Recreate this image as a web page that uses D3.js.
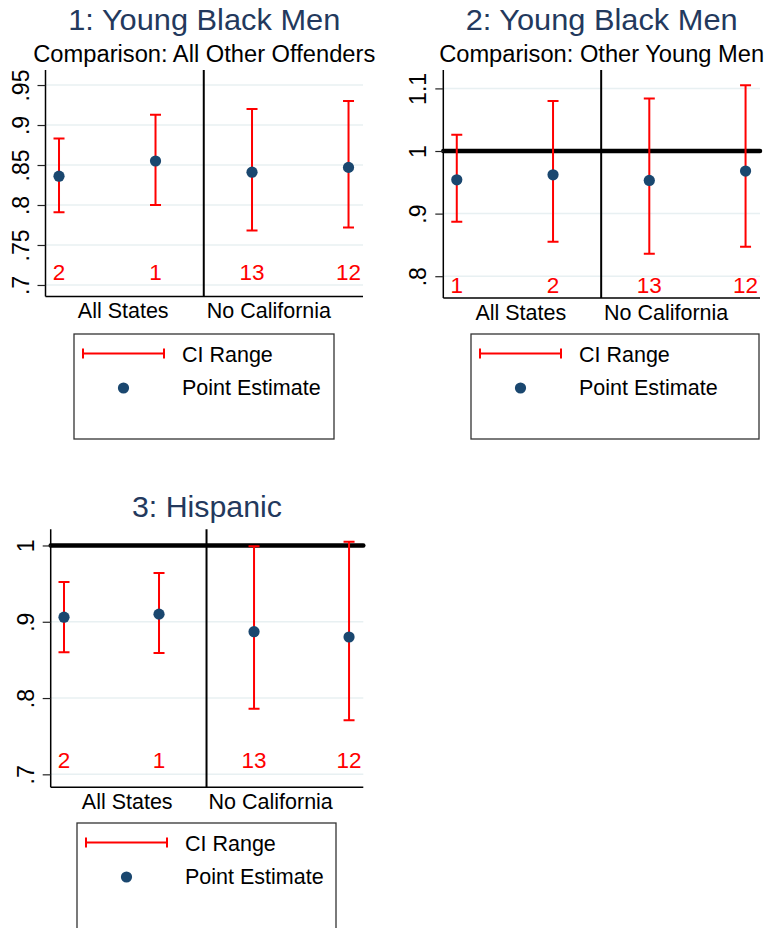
<!DOCTYPE html>
<html><head><meta charset="utf-8">
<script src="https://cdn.jsdelivr.net/npm/d3@7"></script>
<style>
html,body{margin:0;padding:0;background:#fff;}
text{font-family:"Liberation Sans",Arial,Helvetica,sans-serif;}
</style></head>
<body>
<svg id="chart" width="767" height="928"></svg>
<script>
// ---- data ----
const titles = ["1: Young Black Men", "2: Young Black Men", "3: Hispanic"];
const subtitles = ["Comparison: All Other Offenders", "Comparison: Other Young Men", ""];
const xPositions = [1, 2, 3, 4];
const specLabels1 = ["2", "1", "13", "12"];
const specLabels2 = ["1", "2", "13", "12"];
const specLabels3 = ["2", "1", "13", "12"];
const estimate1 = [0.836, 0.855, 0.841, 0.847];
const ciLow1    = [0.791, 0.800, 0.768, 0.772];
const ciHigh1   = [0.883, 0.913, 0.920, 0.930];
const estimate2 = [0.954, 0.962, 0.953, 0.968];
const ciLow2    = [0.887, 0.855, 0.836, 0.847];
const ciHigh2   = [1.026, 1.080, 1.084, 1.105];
const estimate3 = [0.906, 0.910, 0.887, 0.880];
const ciLow3    = [0.860, 0.859, 0.786, 0.771];
const ciHigh3   = [0.952, 0.964, 0.999, 1.005];
const yTicks1 = [0.7, 0.75, 0.8, 0.85, 0.9, 0.95];
const yTickLabels1 = [".7", ".75", ".8", ".85", ".9", ".95"];
const yTicks2 = [0.8, 0.9, 1, 1.1];
const yTickLabels2 = [".8", ".9", "1", "1.1"];
const yTicks3 = [0.7, 0.8, 0.9, 1];
const yTickLabels3 = [".7", ".8", ".9", "1"];
const groupLabels = ["All States", "No California"];
const groupLabelPos = [1.66, 3.17];
const dividerAt = 2.5;
const referenceLine = [null, 1, 1];
const legendLabels = ["CI Range", "Point Estimate"];

// ---- styles ----
const RED = "#ff0000", NAVY_PT = "#1a476f", TITLE_C = "#23395d", GRID = "#e8f0f2";

const panels = [
  {est: estimate1, lo: ciLow1, hi: ciHigh1, spec: specLabels1, ticks: yTicks1, tickLabels: yTickLabels1,
   left: 45.5, right: 363, top: 70, bottom: 296.5, ydom: [0.6856, 0.9688],
   titleY: 30, subY: 62, labelBase: 280, titleW: 272, subW: 342,
   legend: {x: 74, y: 334, w: 260, h: 105}},
  {est: estimate2, lo: ciLow2, hi: ciHigh2, spec: specLabels2, ticks: yTicks2, tickLabels: yTickLabels2,
   left: 443.3, right: 760, top: 70, bottom: 298, ydom: [0.7652, 1.1294],
   titleY: 30, subY: 62, labelBase: 293, titleW: 272, subW: 325,
   legend: {x: 471, y: 334, w: 288, h: 105}},
  {est: estimate3, lo: ciLow3, hi: ciHigh3, spec: specLabels3, ticks: yTicks3, tickLabels: yTickLabels3,
   left: 50.7, right: 363.3, top: 529.3, bottom: 787.3, ydom: [0.683, 1.0212],
   titleY: 517, subY: null, labelBase: 768, titleW: 150, subW: null,
   legend: {x: 77, y: 823, w: 259, h: 106}}
];

const svg = d3.select("#chart");
svg.append("rect").attr("width", 767).attr("height", 928).attr("fill", "#fff");

panels.forEach((p, i) => {
  const g = svg.append("g");
  const x = d3.scaleLinear().domain([0.86, 4.15]).range([p.left, p.right]);
  const y = d3.scaleLinear().domain(p.ydom).range([p.bottom, p.top]);
  const cx = (p.left + p.right) / 2;

  // titles
  g.append("text").attr("x", cx).attr("y", p.titleY).attr("text-anchor", "middle")
    .attr("font-size", 29).attr("fill", TITLE_C)
    .attr("textLength", p.titleW).attr("lengthAdjust", "spacingAndGlyphs").text(titles[i]);
  if (subtitles[i]) {
    g.append("text").attr("x", cx).attr("y", p.subY).attr("text-anchor", "middle")
      .attr("font-size", 23).attr("fill", "#000")
      .attr("textLength", p.subW).attr("lengthAdjust", "spacingAndGlyphs").text(subtitles[i]);
  }

  // gridlines
  g.append("g").selectAll("line").data(p.ticks).join("line")
    .attr("x1", p.left).attr("x2", p.right)
    .attr("y1", d => y(d)).attr("y2", d => y(d))
    .attr("stroke", GRID).attr("stroke-width", 1.5);

  // reference line
  if (referenceLine[i] !== null) {
    g.append("line").attr("x1", p.left).attr("x2", p.right)
      .attr("y1", y(referenceLine[i])).attr("y2", y(referenceLine[i]))
      .attr("stroke", "#000").attr("stroke-width", 4.5).attr("stroke-linecap", "round");
  }

  // divider
  g.append("line").attr("x1", x(dividerAt)).attr("x2", x(dividerAt))
    .attr("y1", p.top).attr("y2", p.bottom)
    .attr("stroke", "#000").attr("stroke-width", 2);

  // y axis
  const yAxis = d3.axisLeft(y).tickValues(p.ticks)
    .tickFormat((d, k) => p.tickLabels[k]).tickSize(8).tickSizeOuter(0);
  const ya = g.append("g").attr("transform", `translate(${p.left},0)`).call(yAxis);
  ya.select(".domain").attr("stroke", "#000").attr("stroke-width", 1.5)
    .attr("d", `M0,${p.top}V${p.bottom}`);
  ya.selectAll(".tick line").attr("stroke", "#222").attr("stroke-width", 1.2);
  ya.selectAll(".tick text")
    .attr("x", null).attr("dy", null)
    .attr("transform", "rotate(-90) translate(0,-17)")
    .attr("text-anchor", "middle").attr("font-size", 23).attr("fill", "#000")
    .attr("font-family", "Liberation Sans, Arial, sans-serif");

  // x axis
  const xAxis = d3.axisBottom(x).tickValues(groupLabelPos)
    .tickFormat((d, k) => groupLabels[k]).tickSize(0).tickSizeOuter(0);
  const xa = g.append("g").attr("transform", `translate(0,${p.bottom})`).call(xAxis);
  xa.select(".domain").attr("stroke", "#000").attr("stroke-width", 1.5)
    .attr("d", `M${p.left},0H${p.right}`);
  xa.selectAll(".tick text").attr("dy", null).attr("y", 21.5)
    .attr("font-size", 21.5).attr("fill", "#000")
    .attr("font-family", "Liberation Sans, Arial, sans-serif");

  // error bars
  const idx = d3.range(xPositions.length);
  const eb = g.append("g").attr("stroke", RED).attr("stroke-width", 2).attr("fill", "none");
  eb.selectAll("path").data(idx).join("path")
    .attr("d", k => {
      const xx = x(xPositions[k]), y0 = y(p.lo[k]), y1 = y(p.hi[k]);
      return `M${xx},${y0}V${y1}M${xx-5.5},${y0}H${xx+5.5}M${xx-5.5},${y1}H${xx+5.5}`;
    });

  // points
  g.append("g").selectAll("circle").data(idx).join("circle")
    .attr("cx", k => x(xPositions[k])).attr("cy", k => y(p.est[k]))
    .attr("r", 5.6).attr("fill", NAVY_PT);

  // spec labels
  g.append("g").selectAll("text").data(idx).join("text")
    .attr("x", k => x(xPositions[k])).attr("y", p.labelBase)
    .attr("text-anchor", "middle").attr("font-size", 22.5).attr("fill", RED)
    .text(k => p.spec[k]);

  // legend
  const L = p.legend;
  const lg = g.append("g").attr("transform", `translate(${L.x},${L.y})`);
  lg.append("rect").attr("x", 0).attr("y", 0).attr("width", L.w).attr("height", L.h)
    .attr("fill", "#fff").attr("stroke", "#333").attr("stroke-width", 1.3);
  lg.append("path").attr("d", "M9,19.5H90M9,14.5V24.5M90,14.5V24.5")
    .attr("stroke", RED).attr("stroke-width", 2).attr("fill", "none");
  lg.append("circle").attr("cx", 49.5).attr("cy", 54).attr("r", 5.6).attr("fill", NAVY_PT);
  lg.append("text").attr("x", 108).attr("y", 27.5).attr("font-size", 21.5).attr("fill", "#000").text(legendLabels[0]);
  lg.append("text").attr("x", 108).attr("y", 61).attr("font-size", 21.5).attr("fill", "#000").text(legendLabels[1]);
});
</script>
</body></html>
